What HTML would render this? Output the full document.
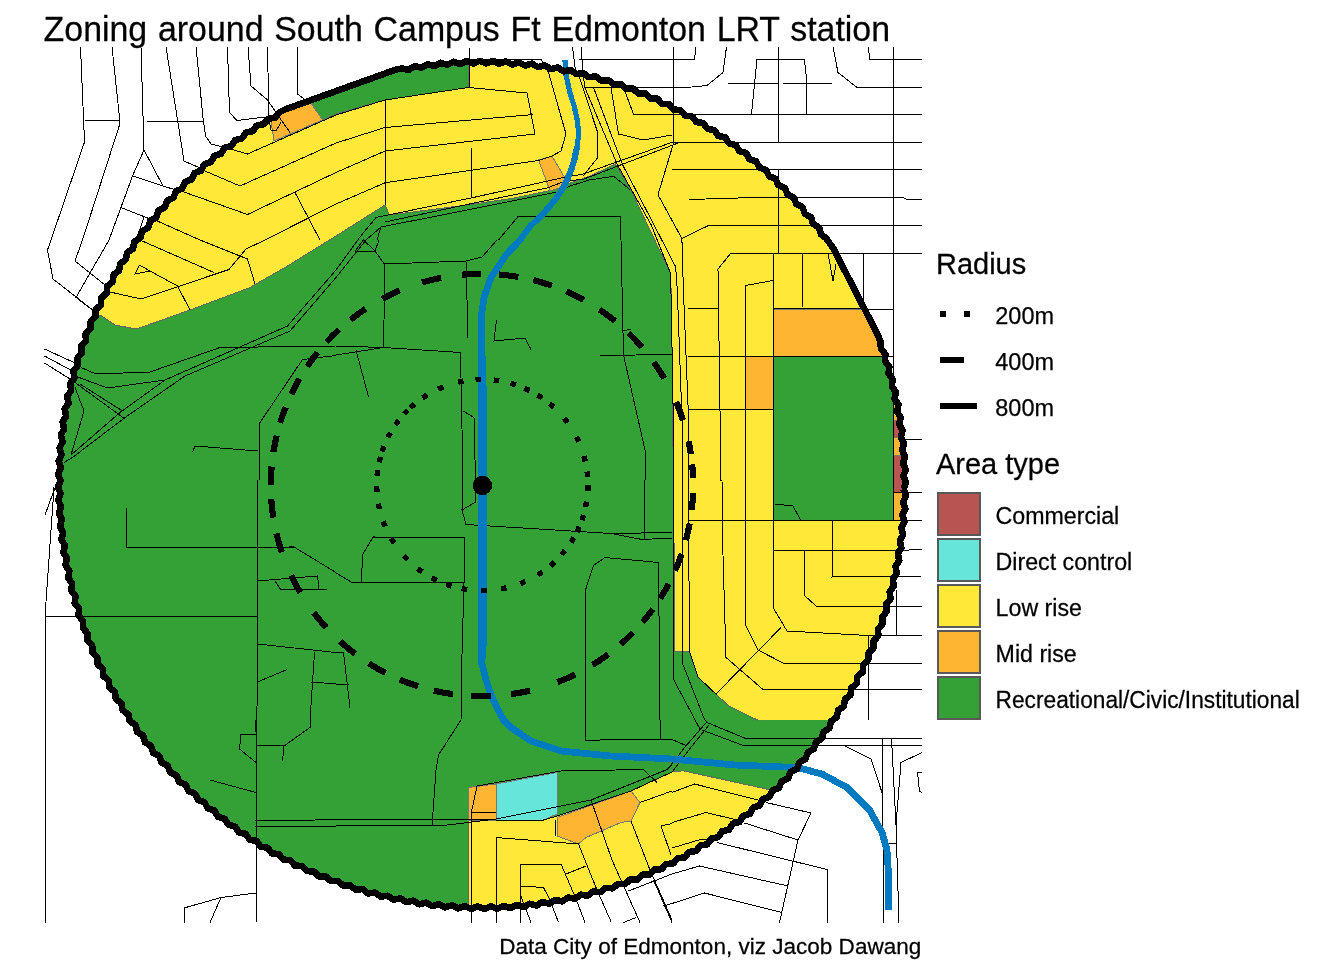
<!DOCTYPE html>
<html><head><meta charset="utf-8"><title>Zoning around South Campus Ft Edmonton LRT station</title>
<style>
html,body{margin:0;padding:0;background:#fff;}
body{width:1344px;height:960px;overflow:hidden;}
svg{display:block;}
text{font-family:"Liberation Sans",Arial,sans-serif;fill:#000;stroke:#000;stroke-width:0.25px;}
.t{font-size:33.9px;word-spacing:1.35px;}
.lt{font-size:29px;}
.ll{font-size:23.2px;}
.cp{font-size:22.55px;}
.ln2{font-size:23.47px;}
.ln{fill:none;stroke:#000;stroke-width:1;}
</style></head><body>
<svg width="1344" height="960" viewBox="0 0 1344 960">
<defs>
<clipPath id="panel"><rect x="44" y="47" width="878" height="876"/></clipPath>
<clipPath id="circ"><circle cx="482" cy="484.9" r="422.8"/></clipPath>
</defs>
<rect width="1344" height="960" fill="#fff"/>
<g clip-path="url(#panel)" shape-rendering="crispEdges">
<g clip-path="url(#circ)">
<circle cx="482.0" cy="484.9" r="422.8" fill="#34a137"/>
<polygon points="40,318 100,315 115,325 136,329 145,326 190,310 250,287.5 285,267.5 336,236 385,205 389.4,215 470,204.6 514.6,198 548.1,190.9 562.3,186 590,176 615.6,164 631,190 670.4,273 671.5,300 674.6,600 674.6,651.7 689.2,651.7 698,677 716.7,694.8 729.2,706.25 758.3,720.4 940,720.4 940,40 468.5,40 468.5,87.5 385,100 336,114 322.5,120 309,104 300,40 40,40" fill="#ffe838"/>
<polygon points="468.5,821 543.5,820 557,816 631,791 672,772 683,770.75 770.75,790 800,790 800,930 468.5,930" fill="#ffe838"/>
<polyline points="100,315 115,325 136,329 145,326 190,310 250,287.5 285,267.5 336,236 385,205 389.4,215 470,204.6 514.6,198 548.1,190.9 562.3,186 590,176 615.6,164 631,190 670.4,273 671.5,300 674.6,600 674.6,651.7 689.2,651.7 698,677 716.7,694.8 729.2,706.25 758.3,720.4" fill="none" stroke="#666" stroke-width="1"/>
<polyline points="468.5,61 468.5,87.5 385,100 336,114 322.5,120" fill="none" stroke="#666" stroke-width="1"/>
<polyline points="468.5,930 468.5,821 543.5,820 557,816 631,791 672,772 683,770.75 770.75,790" fill="none" stroke="#666" stroke-width="1"/>
<polygon points="773,356 893,356 893,520.75 773,520.75" fill="#34a137"/>
<polygon points="271,121 280,100 309,100 322.5,120 274,141" fill="#fdb532" stroke="#777" stroke-width="1"/>
<polygon points="538.5,160 552,156 565,178 566,186 550,191 546,180" fill="#fdb532" stroke="#777" stroke-width="1"/>
<polygon points="773,309 870,309 890,356 773,356" fill="#fdb532" stroke="#777" stroke-width="1"/>
<polygon points="745.5,356.5 773,356.5 773,409.5 745.5,409.5" fill="#fdb532" stroke="#777" stroke-width="1"/>
<polygon points="893,400 920,400 920,420 893,420" fill="#fdb532" stroke="#777" stroke-width="1"/>
<polygon points="893,437.5 920,437.5 920,455 893,455" fill="#fdb532" stroke="#777" stroke-width="1"/>
<polygon points="893,492.5 920,492.5 920,520.75 893,520.75" fill="#fdb532" stroke="#777" stroke-width="1"/>
<polygon points="468.5,787.5 496,784 496,820 468.5,821" fill="#fdb532" stroke="#777" stroke-width="1"/>
<polygon points="557,817.5 631,791 640,802.5 631,821 621,822.5 586,837.5 578.5,844 557,836" fill="#fdb532" stroke="#777" stroke-width="1"/>
<polygon points="893,420 920,420 920,437.5 893,437.5" fill="#b85452" stroke="#777" stroke-width="1"/>
<polygon points="893,455 920,455 920,492.5 893,492.5" fill="#b85452" stroke="#777" stroke-width="1"/>
<polygon points="496,784 557,772.5 557,814 543.5,820 496,820" fill="#66e6da" stroke="#777" stroke-width="1"/>
</g>
<g class="ln">
<polyline points="80.5,47 84,130 84.5,142 51,240"/>
<polyline points="112,47 119.5,117.5 119.5,125 82.5,240"/>
<polyline points="85,120.5 119.5,120.5"/>
<polyline points="141,47 144,150 132.5,176 109,240"/>
<polyline points="144,150 162.5,185"/>
<polyline points="132.5,176 172.5,189"/>
<polyline points="121,207.5 150,219"/>
<polyline points="144,217.5 136,240"/>
<polyline points="147,121 203,121"/>
<polyline points="166,47 184,161 200,168"/>
<polyline points="196,47 203,117.5 205.5,136 211,144 225,147.5 247.5,154 336,115 385,100"/>
<polyline points="227.5,47 229.5,112.5 237,120.5 265,117"/>
<polyline points="248,47 251,86 267.5,100 276,112.5 290,132.5"/>
<polyline points="267.5,47 269,120 271,130 276,131 281,122.5"/>
<polyline points="297.5,47 297.5,94 304,99"/>
<polyline points="205,171 240,186 336,143 385,127.5"/>
<polyline points="181,191 247.5,214.5 336,172.5 385,151"/>
<polyline points="155,220 200,240 247.5,259 255,284"/>
<polyline points="295,192.5 320,240"/>
<polyline points="265,240 336,204 385,182.8"/>
<polyline points="51,240 47.5,250 53,279 94,311"/>
<polyline points="82.5,240 75,261 105,285"/>
<polyline points="109,240 76,297.5 94,311"/>
<polyline points="44.5,349 75,363"/>
<polyline points="44.5,356 72.5,371"/>
<polyline points="44.5,363 70,379"/>
<polyline points="81,367.5 96,374 150,372 220,347.5 336,346"/>
<polyline points="75,376 107.5,388 165,380 287.5,326 336,270 360,237 376,217.5 471,198 545,181.6 566,177 582,174.4 674,141.6"/>
<polyline points="75,382.5 125,419"/>
<polyline points="80,384 122.5,411"/>
<polyline points="71,455 120,412.5 165,380"/>
<polyline points="64,462.5 72.5,457.5 125,417.5 185,376 290,331 336,277.5 366,240 381,227 470,209.5 557,192 570,186 589.4,180 613.75,176.25 629.7,189.4"/>
<polyline points="75,387.5 84,411 71,455"/>
<polyline points="336,355.5 302.5,359.5 259,424 259,480"/>
<polyline points="195,446 257.5,451"/>
<polyline points="195,446 192.5,452.5"/>
<polyline points="140,240 214,272.5"/>
<polyline points="265,240 246,249 229,269.5 141,299 110,292"/>
<polyline points="139.5,265 150,271 135,274 139.5,265"/>
<polyline points="150,271 177.5,286 190,310"/>
<polyline points="385,100 385,205"/>
<polyline points="385,100 468.5,87.5 527,93 535,134"/>
<polyline points="385,127.5 533.5,114.5"/>
<polyline points="385,151 535,134"/>
<polyline points="385,182.8 538.5,160.5 552.8,155.6 561,151 566,134 548.5,72.5"/>
<polyline points="471,147.5 471,197.5"/>
<polyline points="381,227 377,240"/>
<polyline points="518.5,216 620,216 620,240"/>
<polyline points="518.5,216 498.5,240"/>
<polyline points="469,47.5 469,87.5"/>
<polyline points="469,60 541,59.5 548.5,72.5"/>
<polyline points="572.5,47 575.3,69.4 580,78.75 597.8,133 597.8,157.5 582.8,176.25"/>
<polyline points="581,47 582.8,69.4 584.7,87.5"/>
<polyline points="578.5,59 672,59"/>
<polyline points="583.5,87.5 672,87.5"/>
<polyline points="584.7,87.2 617.5,165 651.25,225 670.4,273 671.2,300 673.3,420 673.3,600 674,680.2 700,729.2"/>
<polyline points="385,222 470,203.9 547.4,187.9 563.75,181.6 584,179 679.4,142.5"/>
<polyline points="623.5,87.5 633.5,114 672,114"/>
<polyline points="611,87.5 618.5,134 643.5,140 672,135"/>
<polyline points="355,251 375,251 363.5,240 355,251"/>
<polyline points="375,251 379,240"/>
<polyline points="375,251 385,265 383.5,347.5"/>
<polyline points="385,264 466,261 482,257 497,240"/>
<polyline points="466,261 468,337.5"/>
<polyline points="336,346 383.5,347.5 460.5,352.5 463,480"/>
<polyline points="336,355 383.5,347.5"/>
<polyline points="356,350 368.5,397"/>
<polyline points="463,411 474,417.5 475.5,480"/>
<polyline points="496.5,320 494,341 525,338 531,349.5"/>
<polyline points="621,240 623.5,355 645,450 646,480"/>
<polyline points="600.5,355.5 672,354.5"/>
<polyline points="623.5,331 631,329"/>
<polyline points="672,59.5 694.5,59.5 696,47"/>
<polyline points="673,47 673,59.5"/>
<polyline points="672,87.5 692,87 707,85.5 723,72.5 726.5,47"/>
<polyline points="778,47 778,142.5"/>
<polyline points="778,170 778,253"/>
<polyline points="757,59.5 804.5,60 806,74 806,114"/>
<polyline points="757,59.5 751.5,114"/>
<polyline points="728,83 778,83"/>
<polyline points="783,83 832,83"/>
<polyline points="672,114 922,114"/>
<polyline points="672,142.5 922,142.5"/>
<polyline points="672,169.5 922,169.5"/>
<polyline points="689.5,199.5 754.5,197.5 903,197.5 906,199 922,199"/>
<polyline points="707,225.75 922,225.75"/>
<polyline points="708,225.75 681.9,238.5"/>
<polyline points="893,47 893,520.75"/>
<polyline points="833,47 838,72.5 857,87.5 922,87.5"/>
<polyline points="868,47 870,59.5 922,59.5"/>
<polyline points="593.5,87.5 622.5,164.6 646.5,210.4 675.6,266.7 677.3,290 682,420 682.3,600 683,664.6 704.2,718.75 706.8,721.9"/>
<polyline points="673.75,47 673.75,142.5 658,194.8 681.9,238.5 683.4,290 688.6,420 688.5,520 689.6,652 698,677 716.7,694.8"/>
<polyline points="731,253 922,253"/>
<polyline points="731,253 718,269 721,480 722,480 723,555 726,657.5 763,689.5 922,689.5"/>
<polyline points="773,253 773,480 774,609 787,631 868,635.5 922,635.5"/>
<polyline points="745.5,285.5 773,280.5"/>
<polyline points="745.5,285.5 745.5,625 758,650 783,663 922,663"/>
<polyline points="803,253 802,308"/>
<polyline points="688,308 718,308"/>
<polyline points="773,308.5 862,309"/>
<polyline points="688,357 773,356.5"/>
<polyline points="688,409.5 773,409.5"/>
<polyline points="828,253 833,281 836,264"/>
<polyline points="863,253 863,308"/>
<polyline points="863,309 893,309"/>
<polyline points="773,356 893,356"/>
<polyline points="904.5,439 922,439"/>
<polyline points="45,616 45,922.5"/>
<polyline points="45,616 54,487.5"/>
<polyline points="45,515 56,485"/>
<polyline points="45,616 257.5,616"/>
<polyline points="126,508 126,547.5 294,547 336,572.5"/>
<polyline points="257.5,480 257.5,700 256,720 256.25,922.5"/>
<polyline points="257.5,581 317.5,576 319,589"/>
<polyline points="275,581 281,590 327.5,589"/>
<polyline points="257.5,644 336,652.5"/>
<polyline points="314.5,652.5 310,720"/>
<polyline points="257.5,682 287,669.5"/>
<polyline points="311,682 336,684"/>
<polyline points="463,480 462,510 466,524.5 611,533.5 642,539.5 672,538"/>
<polyline points="611,533.5 672,532.5"/>
<polyline points="462,510 475.5,502 475.5,480"/>
<polyline points="644.75,480 644.75,539.5"/>
<polyline points="336,573 353,583 464,582.5 464,537.5 373,537 363,554 361,583"/>
<polyline points="464,582.5 462,655 461,720 438.5,755 436,770 432,826"/>
<polyline points="605,557.5 658.5,562.5 660,720"/>
<polyline points="605,557.5 593.5,565.5 585.5,590 586,720"/>
<polyline points="336,652.5 343.5,652.5 350,707.5"/>
<polyline points="336,684.5 348.5,684.5"/>
<polyline points="774.5,504 793,506 801,520.75"/>
<polyline points="893,492 922,492"/>
<polyline points="688,520.75 893,520.75 922,520"/>
<polyline points="774,550.5 897,550.5 922,549.5"/>
<polyline points="804,550.5 804,595 816,606 922,606"/>
<polyline points="832,520.75 832,577 922,576"/>
<polyline points="781,627.5 716,694"/>
<polyline points="896,590 896,635"/>
<polyline points="868,635.5 868,720"/>
<polyline points="256,734.5 241,734.5 239.5,749 256,762.5"/>
<polyline points="256,745 284,746 310,727.5 310,720"/>
<polyline points="284,746 282.5,761"/>
<polyline points="210,780 256,792.5"/>
<polyline points="255,821 295,820.5 336,819.5 496,820 543.5,820 557,816 631,791 672,772"/>
<polyline points="255,826 336,826 443.5,825.5 496,819 591,800 666,770 672,765"/>
<polyline points="184,922.5 184,908 221,897.5 256,893"/>
<polyline points="221,897.5 210,922.5"/>
<polyline points="477,786 471,814 471,922.5"/>
<polyline points="477,786 561,771 643.5,769.5 657,782.5"/>
<polyline points="585.5,720 585.5,740.3 620.8,739.6 660,739.4 660,720"/>
<polyline points="660,739.4 671.9,739.4 686,745.5"/>
<polyline points="496,837.5 496,922.5"/>
<polyline points="496,837.5 578.5,844 597,890 611.4,922.5"/>
<polyline points="520.5,864 520.5,922.5"/>
<polyline points="520.5,864 561,864 576,899 585,922.5"/>
<polyline points="520.5,886 543.5,887.5 550,900 558.5,922.5"/>
<polyline points="520.5,895 531,922.5"/>
<polyline points="566,874 586,866"/>
<polyline points="555,820 555,836"/>
<polyline points="591,800 612,860 640,922.5"/>
<polyline points="631,821 650,870 672,920"/>
<polyline points="640,802.5 672,791"/>
<polyline points="661,826 672,823.5"/>
<polyline points="661,826 671,855"/>
<polyline points="628.5,891 672,874 699.5,866 788,886"/>
<polyline points="623.5,922.5 636,917.5"/>
<polyline points="653.5,880 672,922.5"/>
<polyline points="663.5,906 672,903.5 704.5,893 782,912.5"/>
<polyline points="471,813 496,812.5"/>
<polyline points="672,792.5 694.5,784 758,800"/>
<polyline points="672,822.5 706,812.5 737,820"/>
<polyline points="672,848 702,839 713,841"/>
<polyline points="706.8,721.9 686,745.8 667.2,769.8"/>
<polyline points="709.4,724.5 689.6,749 671.4,773"/>
<polyline points="707,722.5 744.5,738 922,738"/>
<polyline points="702,730 742,745 922,745"/>
<polyline points="843,745 871,759 882,792.5"/>
<polyline points="882,738 884,922.5"/>
<polyline points="891.5,738 896,825 899,922.5"/>
<polyline points="922,752.5 901,762.5 896,825"/>
<polyline points="887,843 896,843"/>
<polyline points="922,772.5 917.5,772.5 919.5,791 922,792.5"/>
<polyline points="766,802.5 811,813 798,840 779.5,922.5"/>
<polyline points="744.5,823 798,840"/>
<polyline points="717,842.5 827,869.5 827,922.5"/>
</g>
<polyline points="565,60 566,75 569.7,91.9 574.4,106.9 577.2,120 578.1,127.5 578.1,138.75 577.2,146.25 574.4,159.4" fill="none" stroke="#007bc1" stroke-width="5.2" stroke-linejoin="round"/>
<polyline points="577.2,146.25 574.4,159.4 571.6,168.75 567.8,178.1 563.1,187.5 556.6,197.8 548.1,208.1 539.7,217.5 531.25,225 520,240" fill="none" stroke="#007bc1" stroke-width="6.2" stroke-linejoin="round"/>
<polyline points="522,238 520,240 506,255 491,277.5 484,297.5 481.5,315 481.5,662.5 486,680 492,697.5 503.5,720 511,727.5 531,741 561,751 611,756 672,759 734.5,765 797,767.5 822,774 847,787.5 869.5,810 882,832.5 887,850 888.5,875 888.5,909.8" fill="none" stroke="#007bc1" stroke-width="6.8" stroke-linejoin="round"/>
<polyline points="481.5,340 483.5,400 483.5,640 481.5,665" fill="none" stroke="#007bc1" stroke-width="7" stroke-linejoin="round"/>
<g fill="#000">
<rect x="-2.8" y="-2.7" width="5.6" height="5.4" transform="translate(478.3,379.5) rotate(-2)"/>
<rect x="-2.8" y="-2.7" width="5.6" height="5.4" transform="translate(496.5,380.4) rotate(8)"/>
<rect x="-2.8" y="-2.7" width="5.6" height="5.4" transform="translate(513.2,384.0) rotate(17)"/>
<rect x="-2.8" y="-2.7" width="5.6" height="5.4" transform="translate(527.0,389.3) rotate(25)"/>
<rect x="-2.8" y="-2.7" width="5.6" height="5.4" transform="translate(539.9,396.5) rotate(33)"/>
<rect x="-2.8" y="-2.7" width="5.6" height="5.4" transform="translate(551.7,405.4) rotate(41)"/>
<rect x="-2.8" y="-2.7" width="5.6" height="5.4" transform="translate(565.9,420.4) rotate(52)"/>
<rect x="-2.8" y="-2.7" width="5.6" height="5.4" transform="translate(577.5,439.3) rotate(64)"/>
<rect x="-2.8" y="-2.7" width="5.6" height="5.4" transform="translate(584.6,458.8) rotate(76)"/>
<rect x="-2.8" y="-2.7" width="5.6" height="5.4" transform="translate(587.4,474.3) rotate(84)"/>
<rect x="-2.8" y="-2.7" width="5.6" height="5.4" transform="translate(587.9,488.0) rotate(92)"/>
<rect x="-2.8" y="-2.7" width="5.6" height="5.4" transform="translate(586.1,504.3) rotate(101)"/>
<rect x="-2.8" y="-2.7" width="5.6" height="5.4" transform="translate(582.7,517.6) rotate(108)"/>
<rect x="-2.8" y="-2.7" width="5.6" height="5.4" transform="translate(578.1,529.4) rotate(115)"/>
<rect x="-2.8" y="-2.7" width="5.6" height="5.4" transform="translate(572.5,540.0) rotate(121)"/>
<rect x="-2.8" y="-2.7" width="5.6" height="5.4" transform="translate(563.4,552.6) rotate(130)"/>
<rect x="-2.8" y="-2.7" width="5.6" height="5.4" transform="translate(552.3,564.1) rotate(138)"/>
<rect x="-2.8" y="-2.7" width="5.6" height="5.4" transform="translate(540.1,573.4) rotate(147)"/>
<rect x="-2.8" y="-2.7" width="5.6" height="5.4" transform="translate(522.8,582.5) rotate(157)"/>
<rect x="-2.8" y="-2.7" width="5.6" height="5.4" transform="translate(503.8,588.4) rotate(168)"/>
<rect x="-2.8" y="-2.7" width="5.6" height="5.4" transform="translate(483.8,590.6) rotate(179)"/>
<rect x="-2.8" y="-2.7" width="5.6" height="5.4" transform="translate(464.4,589.1) rotate(190)"/>
<rect x="-2.8" y="-2.7" width="5.6" height="5.4" transform="translate(448.9,585.2) rotate(198)"/>
<rect x="-2.8" y="-2.7" width="5.6" height="5.4" transform="translate(434.3,579.1) rotate(207)"/>
<rect x="-2.8" y="-2.7" width="5.6" height="5.4" transform="translate(419.9,570.2) rotate(216)"/>
<rect x="-2.8" y="-2.7" width="5.6" height="5.4" transform="translate(405.6,557.6) rotate(227)"/>
<rect x="-2.8" y="-2.7" width="5.6" height="5.4" transform="translate(392.7,540.8) rotate(238)"/>
<rect x="-2.8" y="-2.7" width="5.6" height="5.4" transform="translate(384.1,523.9) rotate(248)"/>
<rect x="-2.8" y="-2.7" width="5.6" height="5.4" transform="translate(378.9,506.3) rotate(258)"/>
<rect x="-2.8" y="-2.7" width="5.6" height="5.4" transform="translate(376.8,488.8) rotate(268)"/>
<rect x="-2.8" y="-2.7" width="5.6" height="5.4" transform="translate(377.4,473.0) rotate(-83)"/>
<rect x="-2.8" y="-2.7" width="5.6" height="5.4" transform="translate(379.8,459.6) rotate(-76)"/>
<rect x="-2.8" y="-2.7" width="5.6" height="5.4" transform="translate(383.1,448.9) rotate(-70)"/>
<rect x="-2.8" y="-2.7" width="5.6" height="5.4" transform="translate(389.2,435.1) rotate(-62)"/>
<rect x="-2.8" y="-2.7" width="5.6" height="5.4" transform="translate(397.1,422.6) rotate(-54)"/>
<rect x="-2.8" y="-2.7" width="5.6" height="5.4" transform="translate(406.0,412.0) rotate(-46)"/>
<rect x="-2.8" y="-2.7" width="5.6" height="5.4" transform="translate(412.3,405.9) rotate(-41)"/>
<rect x="-2.8" y="-2.7" width="5.6" height="5.4" transform="translate(424.8,396.4) rotate(-33)"/>
<rect x="-2.8" y="-2.7" width="5.6" height="5.4" transform="translate(440.7,388.0) rotate(-23)"/>
<rect x="-2.8" y="-2.7" width="5.6" height="5.4" transform="translate(460.8,381.6) rotate(-12)"/>
</g>
<path d="M462.0,274.7A211.2,211.2 0 0 1 481.5,273.8M499.0,274.5A211.2,211.2 0 0 1 518.4,277.0M533.3,280.1A211.2,211.2 0 0 1 552.0,285.7M566.3,291.4A211.2,211.2 0 0 1 583.8,299.9M599.5,309.5A211.2,211.2 0 0 1 615.2,321.1M628.6,333.0A211.2,211.2 0 0 1 642.0,347.2M653.7,362.1A211.2,211.2 0 0 1 664.3,378.4M676.2,402.0A211.2,211.2 0 0 1 683.0,420.3M688.6,441.2A211.2,211.2 0 0 1 690.9,454.1M692.2,464.4A211.2,211.2 0 0 1 693.1,477.6M693.1,492.9A211.2,211.2 0 0 1 691.7,509.8M689.7,523.4A211.2,211.2 0 0 1 685.9,540.2M681.7,553.9A211.2,211.2 0 0 1 675.1,570.5M668.6,584.0A211.2,211.2 0 0 1 660.2,598.4M652.9,609.2A211.2,211.2 0 0 1 642.5,622.2M633.2,632.4A211.2,211.2 0 0 1 620.7,644.3M608.3,654.3A211.2,211.2 0 0 1 592.5,665.0M575.4,674.4A211.2,211.2 0 0 1 557.5,682.2M530.1,690.7A211.2,211.2 0 0 1 510.9,694.2M490.8,696.0A211.2,211.2 0 0 1 471.3,695.9M453.1,694.2A211.2,211.2 0 0 1 433.9,690.7M418.1,686.3A211.2,211.2 0 0 1 399.8,679.6M385.7,673.0A211.2,211.2 0 0 1 368.8,663.3M355.1,653.9A211.2,211.2 0 0 1 340.1,641.4M326.3,627.7A211.2,211.2 0 0 1 313.8,612.7M300.3,592.6A211.2,211.2 0 0 1 291.1,575.4M281.8,552.1A211.2,211.2 0 0 1 276.4,533.4M273.3,517.6A211.2,211.2 0 0 1 271.3,499.3M270.8,484.6A211.2,211.2 0 0 1 271.6,466.6M273.4,452.0A211.2,211.2 0 0 1 276.7,435.6M280.1,422.9A211.2,211.2 0 0 1 285.7,407.2M291.3,394.2A211.2,211.2 0 0 1 299.4,378.8M307.2,366.5A211.2,211.2 0 0 1 317.6,352.4M326.6,342.0A211.2,211.2 0 0 1 339.0,329.6M350.5,319.7A211.2,211.2 0 0 1 365.6,308.8M382.2,298.9A211.2,211.2 0 0 1 399.8,290.4M422.0,282.5A211.2,211.2 0 0 1 441.0,277.8" fill="none" stroke="#000" stroke-width="6.2"/>
<polyline points="903.5,489.1 906,495.7 903.1,502.1 905.4,508.7 902.4,515.1 904.5,521.8 901.3,528 903.2,534.7 899.8,540.9 901.4,547.7 897.8,553.7 899.3,560.6 895.5,566.5 896.8,573.4 892.8,579.2 893.8,586.1 889.7,591.8 890.5,598.8 886.2,604.3 886.8,611.3 882.4,616.7 882.7,623.7 878.1,629 878.3,636 873.5,641.1 873.4,648.1 868.5,653.1 868.2,660.1 863.1,664.9 862.7,671.9 857.4,676.5 856.7,683.5 851.3,688 850.4,695 844.9,699.3 843.8,706.2 838.1,710.4 836.8,717.2 831,721.2 829.5,728.1 823.6,731.9 821.8,738.6 815.8,742.3 813.8,749 807.7,752.4 805.5,759.1 799.3,762.3 797,768.9 790.6,772 788.1,778.5 781.7,781.3 778.9,787.8 772.4,790.4 769.4,796.8 762.8,799.2 759.7,805.5 753,807.7 749.7,813.9 743,815.9 739.4,822 732.6,823.8 728.9,829.7 722.1,831.3 718.2,837.2 711.3,838.6 707.2,844.3 700.3,845.5 696,851 689.1,852 684.7,857.4 677.7,858.2 673.1,863.5 666.1,864.1 661.3,869.2 654.3,869.6 649.4,874.6 642.4,874.7 637.3,879.5 630.3,879.4 625.1,884.1 618.1,883.8 612.7,888.3 605.8,887.8 600.3,892.2 593.3,891.4 587.7,895.6 580.7,894.7 575,898.7 568.1,897.5 562.2,901.4 555.3,900 549.3,903.6 542.5,902 536.4,905.5 529.6,903.7 523.4,907 516.7,905 510.4,908 503.7,905.8 497.3,908.7 490.8,906.3 484.3,909 477.8,906.4 471.2,908.9 464.8,906 458.2,908.3 451.8,905.3 445.1,907.4 438.9,904.2 432.2,906.1 426,902.7 419.2,904.3 413.2,900.7 406.3,902.2 400.4,898.4 393.5,899.7 387.7,895.7 380.8,896.7 375.1,892.6 368.1,893.4 362.6,889.1 355.6,889.7 350.2,885.3 343.2,885.6 337.9,881 330.9,881.2 325.8,876.4 318.8,876.3 313.8,871.4 306.8,871.1 302,866 295,865.6 290.4,860.3 283.4,859.6 278.9,854.2 271.9,853.3 267.6,847.8 260.7,846.7 256.5,841 249.7,839.7 245.7,833.9 238.8,832.4 235,826.5 228.3,824.7 224.6,818.7 217.9,816.7 214.5,810.6 207.8,808.4 204.6,802.2 198,799.9 194.9,793.5 188.4,791 185.6,784.6 179.1,781.8 176.5,775.3 170.1,772.3 167.7,765.7 161.4,762.6 159.2,755.9 153,752.6 151,745.9 144.9,742.3 143.1,735.5 137.2,731.8 135.6,725 129.7,721.1 128.3,714.2 122.6,710.1 121.4,703.2 115.9,698.9 114.9,692 109.5,687.6 108.7,680.6 103.4,676 102.8,669 97.7,664.2 97.3,657.2 92.3,652.3 92.2,645.3 87.4,640.2 87.5,633.2 82.8,628 83.1,621 78.6,615.6 79.1,608.7 74.7,603.2 75.5,596.2 71.3,590.6 72.2,583.6 68.2,577.9 69.4,571 65.5,565.1 66.9,558.2 63.3,552.2 64.9,545.4 61.4,539.3 63.2,532.5 59.9,526.3 61.9,519.6 58.9,513.3 61.1,506.6 58.2,500.2 60.6,493.7 57.9,487.2 60.5,480.7 58,474.1 60.9,467.7 58.6,461.1 61.6,454.7 59.5,448 62.7,441.8 60.8,435.1 64.2,428.9 62.6,422.1 66.2,416.1 64.7,409.2 68.5,403.3 67.2,396.4 71.2,390.6 70.2,383.7 74.3,378 73.5,371 77.8,365.5 77.2,358.5 81.6,353.1 81.3,346.1 85.9,340.8 85.7,333.8 90.5,328.7 90.6,321.7 95.5,316.7 95.8,309.7 100.9,304.9 101.3,297.9 106.6,293.3 107.3,286.3 112.7,281.8 113.6,274.8 119.1,270.5 120.2,263.6 125.9,259.4 127.2,252.6 133,248.6 134.5,241.7 140.4,237.9 142.2,231.2 148.2,227.5 150.2,220.8 156.3,217.4 158.5,210.7 164.7,207.5 167,200.9 173.4,197.8 175.9,191.3 182.3,188.5 185.1,182 191.6,179.4 194.6,173 201.2,170.6 204.3,164.3 211,162.1 214.3,155.9 221,153.9 224.6,147.8 231.4,146 235.1,140.1 241.9,138.5 245.8,132.6 252.7,131.2 256.8,125.5 263.7,124.3 268,118.8 274.9,117.8 279.3,112.4 285.2,109.4 395.4,69.8 401.8,68.4 408.7,69.8 414.7,66.2 421.5,67.8 427.6,64.3 434.4,66.1 440.6,62.8 447.3,64.8 453.6,61.8 460.3,64 466.7,61.1 473.2,63.5 479.7,60.8 486.2,63.4 492.8,60.9 499.2,63.8 505.8,61.5 512.2,64.5 518.9,62.4 525.1,65.6 531.8,63.7 538,67.1 544.8,65.5 550.8,69.1 557.7,67.6 563.6,71.4 570.5,70.1 576.3,74.1 583.2,73.1 588.9,77.2 595.9,76.4 601.4,80.7 608.4,80.1 613.8,84.5 620.8,84.2 626.1,88.8 633.1,88.6 638.2,93.4 645.2,93.5 650.2,98.4 657.2,98.7 662,103.8 669,104.2 673.6,109.5 680.6,110.2 685.1,115.6 692.1,116.5 696.4,122 703.3,123.1 707.5,128.8 714.3,130.1 718.3,135.9 725.2,137.4 729,143.3 735.7,145.1 739.4,151.1 746.1,153.1 749.5,159.2 756.2,161.4 759.4,167.6 766,169.9 769.1,176.3 775.6,178.8 778.4,185.2 784.9,188 787.5,194.5 793.9,197.5 796.3,204.1 802.6,207.2 804.8,213.9 811,217.2 813,223.9 819.1,227.5 820.9,234.3 826.3,238.4 830,243.7 833.7,249.1 878.3,335.9 880.6,342 880.9,348.8 885.4,354.2 884.9,361.1 889.3,366.6 888.5,373.6 892.7,379.2 891.8,386.2 895.8,391.9 894.6,398.8 898.5,404.7 897.1,411.6 900.7,417.6 899.1,424.4 902.6,430.5 900.8,437.3 904.1,443.5 902.1,450.2 905.1,456.5 902.9,463.2 905.8,469.6 903.4,476.1 906.1,482.6 903.5,489.1" fill="none" stroke="#000" stroke-width="6.6" stroke-linejoin="round"/>
<circle cx="482.5" cy="485.5" r="9.6" fill="#000"/>
</g>
<g shape-rendering="crispEdges">
<rect x="940" y="311" width="6" height="6"/><rect x="964" y="311" width="6" height="6"/>
<rect x="940" y="357" width="24" height="6"/>
<rect x="940" y="403" width="37" height="6"/>
<rect x="937" y="492" width="44" height="44" fill="#595959"/><rect x="939" y="494" width="40" height="40" fill="#b85452"/>
<rect x="937" y="538" width="44" height="44" fill="#595959"/><rect x="939" y="540" width="40" height="40" fill="#66e6da"/>
<rect x="937" y="584" width="44" height="44" fill="#595959"/><rect x="939" y="586" width="40" height="40" fill="#ffe838"/>
<rect x="937" y="630" width="44" height="44" fill="#595959"/><rect x="939" y="632" width="40" height="40" fill="#fdb532"/>
<rect x="937" y="676" width="44" height="44" fill="#595959"/><rect x="939" y="678" width="40" height="40" fill="#34a137"/>
</g>
<text class="t" transform="translate(43.6,40.6) scale(1,1.035)">Zoning around South Campus Ft Edmonton LRT station</text>
<text class="lt" transform="translate(936,273.9) scale(1,1.015)">Radius</text>
<text class="ln2" transform="translate(995.3,323.7) scale(1,1.0)">200m</text>
<text class="ln2" transform="translate(995.3,369.7) scale(1,1.0)">400m</text>
<text class="ln2" transform="translate(995.3,415.7) scale(1,1.0)">800m</text>
<text class="lt" transform="translate(936,473.9) scale(1,1.015)">Area type</text>
<text class="ll" transform="translate(995.6,523.6) scale(1,1.015)">Commercial</text>
<text class="ll" transform="translate(995.6,569.6) scale(1,1.015)">Direct control</text>
<text class="ll" transform="translate(995.6,615.6) scale(1,1.015)">Low rise</text>
<text class="ll" transform="translate(995.6,661.6) scale(1,1.015)">Mid rise</text>
<text class="ll" transform="translate(995.6,707.6) scale(0.979,1.015)">Recreational/Civic/Institutional</text>
<text class="cp" text-anchor="end" transform="translate(921.3,954.4) scale(1,1.015)">Data City of Edmonton, viz Jacob Dawang</text>
</svg>
</body></html>
